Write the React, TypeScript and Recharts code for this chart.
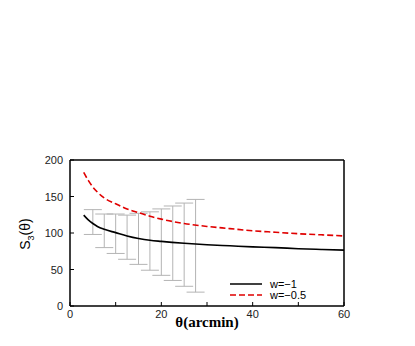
import React from 'react';
import { ComposedChart, Line, Scatter, ErrorBar, XAxis, YAxis } from 'recharts';

// model curves, S3 vs theta
const thetaVals = [3, 4, 5, 6, 7.5, 10, 12.5, 15, 17.5, 20, 25, 30, 35, 40, 45, 50, 55, 60];
const s3WMinus1 = [124.5, 118, 113, 109, 105, 100.5, 96, 92.5, 90, 88.5, 86, 84, 82.5, 81, 80, 78.5, 77.5, 76.5];
const s3WMinus05 = [183, 172, 163, 156, 148, 140, 133, 128, 123, 119, 113, 109, 106, 103, 101, 99, 97.5, 96];

// error bars (low / high ends)
const errTheta = [5, 7.5, 10, 12.5, 15, 17.5, 20, 22.5, 25, 27.5];
const errLow = [98, 80, 72, 64, 57, 49, 42, 35, 27, 19];
const errHigh = [132, 126, 126, 124.5, 127, 129, 133, 137, 141, 146];

const xTicks = [0, 10, 20, 30, 40, 50, 60];
const xLabels = [0, 20, 40, 60];
const yTicks = [0, 25, 50, 75, 100, 125, 150, 175, 200];
const yLabels = [0, 50, 100, 150, 200];

const seriesNames = ['w=\u22121', 'w=\u22120.5'];

const lineData1 = thetaVals.map((t, i) => ({ theta: t, s3: s3WMinus1[i] }));
const lineData2 = thetaVals.map((t, i) => ({ theta: t, s3: s3WMinus05[i] }));
const errData = errTheta.map((t, i) => {
  const mid = (errLow[i] + errHigh[i]) / 2;
  return { theta: t, s3: mid, err: [mid - errLow[i], errHigh[i] - mid] };
});

const tickFont = { fontFamily: 'Liberation Sans, Arial, sans-serif', fontSize: 11, fill: '#222' };

const BottomTick = (props: any) => {
  const { x, y, payload } = props;
  return (
    <g>
      <line x1={x} x2={x} y1={y} y2={y - 4} stroke="#000" strokeWidth={1} />
      {xLabels.includes(payload.value) && (
        <text x={x} y={y + 12} textAnchor="middle" {...tickFont}>{payload.value}</text>
      )}
    </g>
  );
};

const TopTick = (props: any) => {
  const { x, y } = props;
  return <line x1={x} x2={x} y1={y} y2={y + 4} stroke="#000" strokeWidth={1} />;
};

const LeftTick = (props: any) => {
  const { x, y, payload } = props;
  return (
    <g>
      <line x1={x} x2={x + 4} y1={y} y2={y} stroke="#000" strokeWidth={1} />
      {yLabels.includes(payload.value) && (
        <text x={x - 7} y={y + 4} textAnchor="end" {...tickFont}>{payload.value}</text>
      )}
    </g>
  );
};

const RightTick = (props: any) => {
  const { x, y } = props;
  return <line x1={x} x2={x - 4} y1={y} y2={y} stroke="#000" strokeWidth={1} />;
};

const YTitle = () => (
  <text
    transform="translate(30, 234) rotate(-90)"
    textAnchor="middle"
    fontFamily="Liberation Sans, Arial, sans-serif"
    fontSize={14}
    fill="#000"
  >
    S<tspan fontSize={9} dy={4}>3</tspan><tspan dy={-4}>(θ)</tspan>
  </text>
);

const XTitle = () => (
  <text
    x={207}
    y={327}
    textAnchor="middle"
    fontFamily="Liberation Serif, Times New Roman, serif"
    fontSize={15}
    fontWeight="bold"
    fill="#000"
  >
    θ(arcmin)
  </text>
);

const LegendBox = () => (
  <div
    style={{
      position: 'absolute',
      left: 229,
      top: 279,
      fontFamily: 'Liberation Sans, Arial, sans-serif',
      fontSize: 11,
      color: '#000',
      lineHeight: '10.5px',
    }}
  >
    {seriesNames.map((name, i) => (
      <div key={name} style={{ display: 'flex', alignItems: 'center', height: 10.5 }}>
        <svg width={34} height={6} style={{ marginRight: 7 }}>
          <line
            x1={1}
            x2={33}
            y1={3}
            y2={3}
            stroke={i === 0 ? '#000' : '#e00000'}
            strokeWidth={1.5}
            strokeDasharray={i === 0 ? undefined : '6 3'}
          />
        </svg>
        <span>{name}</span>
      </div>
    ))}
  </div>
);

export default function App() {
  return (
    <div style={{ position: 'absolute', left: 0, top: 0, width: 415, height: 346 }}>
      <ComposedChart width={415} height={346} margin={{ top: 155, right: 66, bottom: 10, left: 30 }}>
        <XAxis
          xAxisId="b"
          dataKey="theta"
          type="number"
          domain={[0, 60]}
          ticks={xTicks}
          allowDataOverflow
          height={30}
          tickSize={0}
          tickMargin={0}
          tickLine={false}
          tick={<BottomTick />}
          axisLine={{ stroke: '#000', strokeWidth: 1.5 }}
          label={<XTitle />}
        />
        <XAxis
          xAxisId="t"
          orientation="top"
          type="number"
          domain={[0, 60]}
          ticks={[10, 20, 30, 40, 50]}
          height={5}
          tickSize={0}
          tickMargin={0}
          tickLine={false}
          tick={<TopTick />}
          axisLine={{ stroke: '#000', strokeWidth: 1.5 }}
        />
        <YAxis
          yAxisId="l"
          type="number"
          domain={[0, 200]}
          ticks={yTicks}
          width={40}
          tickSize={0}
          tickMargin={0}
          tickLine={false}
          tick={<LeftTick />}
          axisLine={{ stroke: '#000', strokeWidth: 1.5 }}
          label={<YTitle />}
        />
        <YAxis
          yAxisId="r"
          orientation="right"
          type="number"
          domain={[0, 200]}
          ticks={[25, 50, 75, 100, 125, 150, 175]}
          width={5}
          tickSize={0}
          tickMargin={0}
          tickLine={false}
          tick={<RightTick />}
          axisLine={{ stroke: '#000', strokeWidth: 1.5 }}
        />
        <Scatter
          xAxisId="b"
          yAxisId="l"
          data={errData}
          dataKey="s3"
          shape={() => <g />}
          isAnimationActive={false}
          legendType="none"
        >
          <ErrorBar dataKey="err" direction="y" width={9} stroke="#b4b4b4" strokeWidth={1} isAnimationActive={false} />
        </Scatter>
        <Line
          xAxisId="b"
          yAxisId="l"
          data={lineData1}
          dataKey="s3"
          name={seriesNames[0]}
          type="monotone"
          stroke="#000"
          strokeWidth={1.6}
          dot={false}
          isAnimationActive={false}
        />
        <Line
          xAxisId="b"
          yAxisId="l"
          data={lineData2}
          dataKey="s3"
          name={seriesNames[1]}
          type="monotone"
          stroke="#e00000"
          strokeWidth={1.6}
          strokeDasharray="6 3"
          dot={false}
          isAnimationActive={false}
        />
      </ComposedChart>
      <LegendBox />
    </div>
  );
}
